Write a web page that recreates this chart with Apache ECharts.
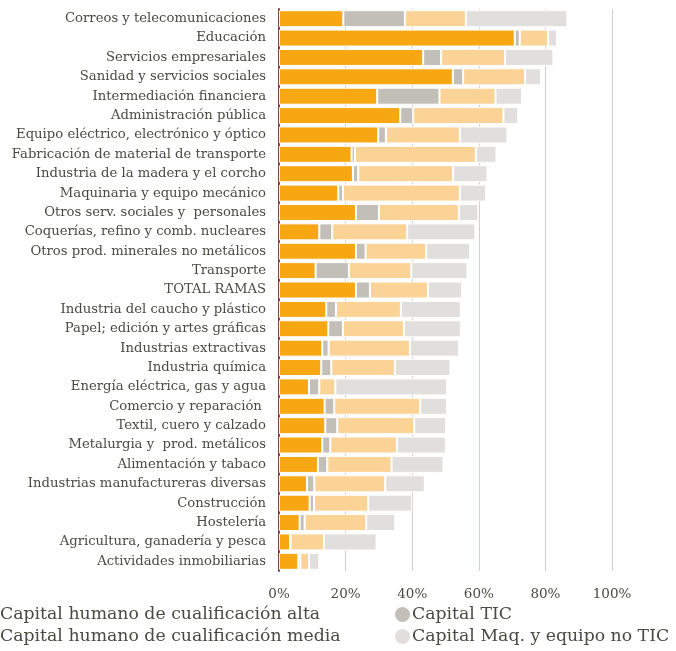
<!DOCTYPE html>
<html>
<head>
<meta charset="utf-8">
<script src="https://cdn.jsdelivr.net/npm/echarts@6/dist/echarts.min.js"></script>
<style>
  html, body { margin: 0; padding: 0; background: #fff; }
  #chart { width: 676px; height: 651px; }
</style>
</head>
<body>
<div id="chart"></div>
<script>
// ramas de actividad (de arriba a abajo)
var categories = [
  "Correos y telecomunicaciones",
  "Educación",
  "Servicios empresariales",
  "Sanidad y servicios sociales",
  "Intermediación financiera",
  "Administración pública",
  "Equipo eléctrico, electrónico y óptico",
  "Fabricación de material de transporte",
  "Industria de la madera y el corcho",
  "Maquinaria y equipo mecánico",
  "Otros serv. sociales y  personales",
  "Coquerías, refino y comb. nucleares",
  "Otros prod. minerales no metálicos",
  "Transporte",
  "TOTAL RAMAS",
  "Industria del caucho y plástico",
  "Papel; edición y artes gráficas",
  "Industrias extractivas",
  "Industria química",
  "Energía eléctrica, gas y agua",
  "Comercio y reparación ",
  "Textil, cuero y calzado",
  "Metalurgia y  prod. metálicos",
  "Alimentación y tabaco",
  "Industrias manufactureras diversas",
  "Construcción",
  "Hostelería",
  "Agricultura, ganadería y pesca",
  "Actividades inmobiliarias"
];

// % por componente
var cualifAlta = [19.3, 70.8, 43.3, 52.2, 29.5, 36.4, 29.8, 21.8, 22.2, 17.8, 23.1, 12.1, 23.1, 11.0, 23.1,
  14.2, 14.8, 13.0, 12.7, 9.0, 13.7, 13.9, 13.0, 11.7, 8.4, 9.2, 6.2, 3.3, 5.8];
var capitalTIC = [18.5, 1.5, 5.4, 3.1, 18.7, 3.9, 2.3, 1.0, 1.6, 1.4, 6.9, 3.9, 2.9, 10.0, 4.2,
  2.9, 4.4, 1.9, 3.0, 3.1, 2.9, 3.6, 2.4, 2.8, 2.2, 1.3, 1.5, 0.2, 0.6];
var cualifMedia = [18.3, 8.5, 19.2, 18.6, 16.8, 27.1, 22.2, 36.3, 28.5, 35.1, 24.0, 22.5, 18.2, 18.7, 17.4,
  19.5, 18.3, 24.4, 19.1, 4.8, 25.8, 23.1, 20.0, 19.3, 21.3, 16.3, 18.5, 10.0, 2.6];
var capitalNoTIC = [30.5, 2.7, 14.5, 4.8, 8.0, 4.4, 14.3, 6.2, 10.3, 7.9, 5.9, 20.5, 13.2, 16.9, 10.3,
  18.0, 17.1, 14.8, 16.7, 33.6, 8.1, 9.6, 14.7, 15.6, 11.9, 13.2, 8.7, 15.8, 3.1];

var xTicks = [0, 20, 40, 60, 80, 100];

var FONT = "DejaVu Serif";
var TXT = "#4a4a42";

function serie(name, data, color) {
  return {
    name: name,
    type: "bar",
    stack: "total",
    barWidth: 17,
    data: data,
    itemStyle: { color: color, borderColor: "#fff", borderWidth: 1 }
  };
}

var chart = echarts.init(document.getElementById("chart"));
chart.setOption({
  animation: false,
  grid: { left: 279, right: 64, top: 9, bottom: 80, containLabel: false },
  xAxis: {
    type: "value",
    min: xTicks[0],
    max: xTicks[xTicks.length - 1],
    interval: 20,
    axisLine: { show: false },
    axisTick: { show: false },
    splitLine: { lineStyle: { color: "#dccbce", width: 1 } },
    axisLabel: { formatter: "{value}%", color: TXT, fontFamily: FONT, fontSize: 13.5, margin: 16 }
  },
  yAxis: {
    type: "category",
    inverse: true,
    data: categories,
    axisLine: { lineStyle: { color: "#7b4848", width: 2 } },
    axisTick: { show: false },
    axisLabel: { color: TXT, fontFamily: FONT, fontSize: 13.2, margin: 13 }
  },
  legend: [
    {
      orient: "vertical",
      left: -17, top: 606, padding: 0,
      itemWidth: 15, itemHeight: 15, itemGap: 5,
      icon: "circle",
      itemStyle: { borderWidth: 0 },
      textStyle: { color: TXT, fontFamily: FONT, fontSize: 17.3, padding: [0, 0, 0, -3] },
      data: ["Capital humano de cualificación alta", "Capital humano de cualificación media"]
    },
    {
      orient: "vertical",
      left: 395, top: 606, padding: 0,
      itemWidth: 15, itemHeight: 15, itemGap: 5,
      icon: "circle",
      itemStyle: { borderWidth: 0 },
      textStyle: { color: TXT, fontFamily: FONT, fontSize: 17.3, padding: [0, 0, 0, -3] },
      data: ["Capital TIC", "Capital Maq. y equipo no TIC"]
    }
  ],
  series: [
    serie("Capital humano de cualificación alta", cualifAlta, "#f6a712"),
    serie("Capital TIC", capitalTIC, "#c1bfb8"),
    serie("Capital humano de cualificación media", cualifMedia, "#fcd396"),
    serie("Capital Maq. y equipo no TIC", capitalNoTIC, "#e0dfdd")
  ]
});
</script>
</body>
</html>
